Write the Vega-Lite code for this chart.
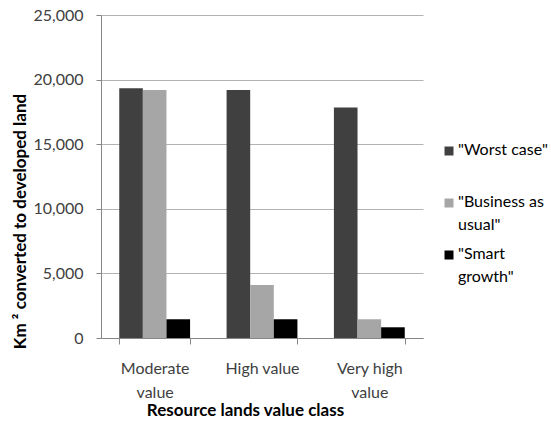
{
  "$schema": "https://vega.github.io/schema/vega-lite/v6.json",
  "width": 322,
  "height": 323,
  "autosize": "none",
  "padding": {"left": 101, "top": 15, "right": 128, "bottom": 83},
  "background": "white",
  "config": {
    "font": "Lato",
    "view": {"stroke": null}
  },
  "data": {
    "values": [
      {"cls": "Moderate value", "scenario": "\"Worst case\"", "km2": 19330},
      {"cls": "Moderate value", "scenario": "\"Business as usual\"", "km2": 19200},
      {"cls": "Moderate value", "scenario": "\"Smart growth\"", "km2": 1450},
      {"cls": "High value", "scenario": "\"Worst case\"", "km2": 19200},
      {"cls": "High value", "scenario": "\"Business as usual\"", "km2": 4100},
      {"cls": "High value", "scenario": "\"Smart growth\"", "km2": 1450},
      {"cls": "Very high value", "scenario": "\"Worst case\"", "km2": 17850},
      {"cls": "Very high value", "scenario": "\"Business as usual\"", "km2": 1450},
      {"cls": "Very high value", "scenario": "\"Smart growth\"", "km2": 830}
    ]
  },
  "mark": {"type": "bar"},
  "encoding": {
    "x": {
      "field": "cls",
      "type": "nominal",
      "sort": ["Moderate value", "High value", "Very high value"],
      "scale": {"paddingInner": 0.34, "paddingOuter": 0.17},
      "axis": {
        "title": "Resource lands value class",
        "titleFontWeight": "bold",
        "titleFontSize": 17,
        "titleColor": "#000000",
        "titleX": 144,
        "titleY": 72,
        "titleBaseline": "middle",
        "titleAlign": "center",
        "labelAngle": 0,
        "labelFontSize": 16,
        "labelColor": "#404040",
        "labelPadding": 16,
        "labelLineHeight": 24,
        "labelBaseline": "top",
        "labelExpr": "datum.value == 'Moderate value' ? ['Moderate', 'value'] : datum.value == 'Very high value' ? ['Very high', 'value'] : datum.value",
        "domainColor": "#868686",
        "tickColor": "#868686",
        "tickSize": 6,
        "tickBand": "extent",
        "grid": false
      }
    },
    "xOffset": {
      "field": "scenario",
      "type": "nominal",
      "sort": ["\"Worst case\"", "\"Business as usual\"", "\"Smart growth\""],
      "scale": {"paddingInner": 0, "paddingOuter": 0}
    },
    "y": {
      "field": "km2",
      "type": "quantitative",
      "scale": {"domain": [0, 25000], "nice": false},
      "axis": {
        "title": "Km ² converted to developed land",
        "titleFontWeight": "bold",
        "titleFontSize": 17,
        "titleColor": "#000000",
        "titleAngle": -90,
        "titleX": -81,
        "titleY": 206,
        "titleAlign": "center",
        "titleBaseline": "middle",
        "values": [0, 5000, 10000, 15000, 20000, 25000],
        "format": ",.0f",
        "labelFontSize": 16,
        "labelColor": "#404040",
        "labelPadding": 13,
        "tickSize": 5,
        "tickColor": "#868686",
        "domainColor": "#868686",
        "gridColor": "#b3b3b3",
        "grid": true
      }
    },
    "color": {
      "field": "scenario",
      "type": "nominal",
      "sort": ["\"Worst case\"", "\"Business as usual\"", "\"Smart growth\""],
      "scale": {
        "domain": ["\"Worst case\"", "\"Business as usual\"", "\"Smart growth\""],
        "range": ["#404040", "#a6a6a6", "#000000"]
      },
      "legend": {
        "title": null,
        "orient": "none",
        "legendX": 340,
        "legendY": 128,
        "padding": 0,
        "symbolType": "square",
        "symbolSize": 81,
        "symbolStrokeWidth": 0,
        "labelFontSize": 16,
        "labelColor": "#000000",
        "labelOffset": 1,
        "labelBaseline": "top",
        "labelLimit": 200,
        "rowPadding": 13,
        "labelExpr": "datum.label == '\"Business as usual\"' ? ['\"Business as', 'usual\"'] : datum.label == '\"Smart growth\"' ? ['\"Smart', 'growth\"'] : [datum.label, '']",
        "encode": {
          "labels": {"update": {"dy": {"value": -9}, "lineHeight": {"value": 23}}}
        }
      }
    }
  }
}
